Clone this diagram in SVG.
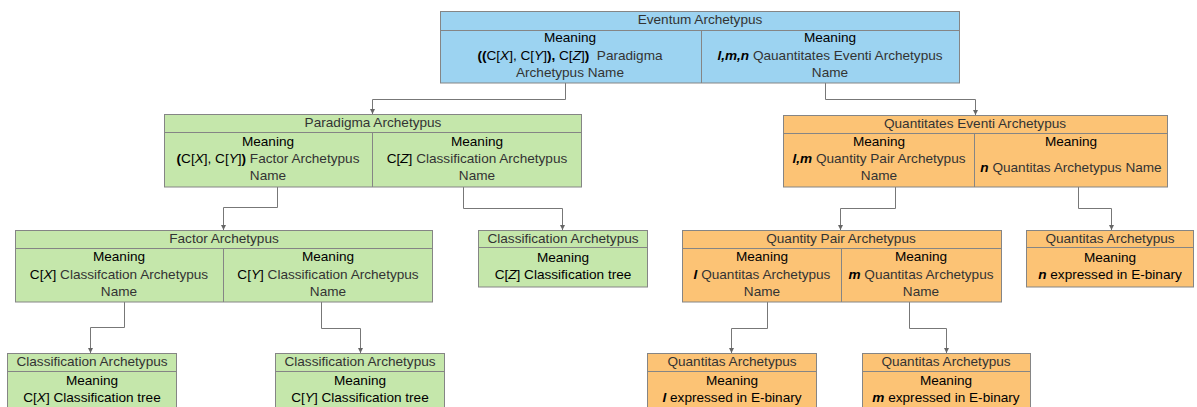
<svg xmlns="http://www.w3.org/2000/svg" width="1197" height="407" viewBox="0 0 1197 407">
<style>
text{font-family:"Liberation Sans",Arial,sans-serif;font-size:13.6px;text-anchor:middle;fill:#333}
.m{fill:#000}
.b{font-weight:bold;fill:#000}
.bi{font-weight:bold;font-style:italic;fill:#000}
.i{font-style:italic}
.box{stroke:#858585;stroke-width:1}
.blue{fill:#9cd3f1}
.green{fill:#c5e7ab}
.orange{fill:#fcc375}
.sep{stroke:#858585;stroke-width:1;fill:none}
.c{stroke:#777;stroke-width:1;fill:none;marker-end:url(#ah)}
</style>
<defs>
<marker id="ah" markerUnits="userSpaceOnUse" markerWidth="6" markerHeight="6" refX="5" refY="2.5" orient="auto">
<path d="M0,0 L5,2.5 L0,5 z" fill="#666"/>
</marker>
</defs>
<g id="connectors">
<path class="c" d="M565.5,83 V99.5 H372.5 V114"/>
<path class="c" d="M825.5,83 V99.5 H975.5 V115"/>
<path class="c" d="M277.5,187 V207.5 H223.5 V230"/>
<path class="c" d="M463.5,187 V208.5 H562.5 V230"/>
<path class="c" d="M895.5,187 V208.5 H840.5 V230"/>
<path class="c" d="M1078.5,187 V208.5 H1111.5 V230"/>
<path class="c" d="M124.5,302 V327.5 H90.5 V353"/>
<path class="c" d="M321.5,302 V328.5 H360.5 V353"/>
<path class="c" d="M767.5,302 V328.5 H731.5 V353"/>
<path class="c" d="M909.5,302 V328.5 H946.5 V353"/>
</g>
<g id="eventum">
<rect class="box blue" x="440.5" y="11.5" width="519" height="71.5"/>
<path class="sep" d="M440.5,30.5 H959.5 M701.5,30.5 V83"/>
<text x="700" y="24">Eventum Archetypus</text>
<text x="570" y="42" class="m">Meaning</text>
<text x="570" y="60"><tspan class="b">((</tspan><tspan class="m">C[</tspan><tspan class="m i">X</tspan><tspan class="m">], C[</tspan><tspan class="m i">Y</tspan><tspan class="m">]</tspan><tspan class="b">),</tspan><tspan class="m"> C[</tspan><tspan class="m i">Z</tspan><tspan class="m">]</tspan><tspan class="b">)</tspan>&#160; Paradigma</text>
<text x="570" y="77">Archetypus Name</text>
<text x="830" y="42" class="m">Meaning</text>
<text x="830" y="60"><tspan class="bi">l,m,n</tspan> Qauantitates Eventi Archetypus</text>
<text x="830" y="77">Name</text>
</g>
<g id="paradigma">
<rect class="box green" x="164.5" y="114.5" width="417" height="72.5"/>
<path class="sep" d="M164.5,132.5 H581.5 M372.5,132.5 V187"/>
<text x="373" y="127">Paradigma Archetypus</text>
<text x="268" y="146" class="m">Meaning</text>
<text x="268" y="163"><tspan class="b">(</tspan><tspan class="m">C[</tspan><tspan class="m i">X</tspan><tspan class="m">], C[</tspan><tspan class="m i">Y</tspan><tspan class="m">]</tspan><tspan class="b">)</tspan> Factor Archetypus</text>
<text x="268" y="180">Name</text>
<text x="477" y="146" class="m">Meaning</text>
<text x="477" y="163"><tspan class="m">C[</tspan><tspan class="m i">Z</tspan><tspan class="m">]</tspan> Classification Archetypus</text>
<text x="477" y="180">Name</text>
</g>
<g id="quantitates">
<rect class="box orange" x="783.5" y="115.5" width="384" height="71.5"/>
<path class="sep" d="M783.5,133.5 H1167.5 M974.5,133.5 V187"/>
<text x="975" y="128">Quantitates Eventi Archetypus</text>
<text x="879" y="146" class="m">Meaning</text>
<text x="879" y="163"><tspan class="bi">l,m</tspan> Quantity Pair Archetypus</text>
<text x="879" y="180">Name</text>
<text x="1071" y="146" class="m">Meaning</text>
<text x="1071" y="172"><tspan class="bi">n</tspan> Quantitas Archetypus Name</text>
</g>
<g id="factor">
<rect class="box green" x="15.5" y="230.5" width="417" height="71.5"/>
<path class="sep" d="M15.5,248.5 H432.5 M223.5,248.5 V302"/>
<text x="224" y="243">Factor Archetypus</text>
<text x="119" y="261" class="m">Meaning</text>
<text x="119" y="279"><tspan class="m">C[</tspan><tspan class="m i">X</tspan><tspan class="m">]</tspan> Classifcation Archetypus</text>
<text x="119" y="296">Name</text>
<text x="328" y="261" class="m">Meaning</text>
<text x="328" y="279"><tspan class="m">C[</tspan><tspan class="m i">Y</tspan><tspan class="m">]</tspan> Classification Archetypus</text>
<text x="328" y="296">Name</text>
</g>
<g id="classZ">
<rect class="box green" x="478.5" y="230.5" width="169" height="56.5"/>
<path class="sep" d="M478.5,247.5 H647.5"/>
<text x="563" y="243">Classification Archetypus</text>
<text x="563" y="262" class="m">Meaning</text>
<text x="563" y="279" class="m">C[<tspan class="i">Z</tspan>] Classification tree</text>
</g>
<g id="quantityPair">
<rect class="box orange" x="682.5" y="230.5" width="319" height="71.5"/>
<path class="sep" d="M682.5,248.5 H1001.5 M841.5,248.5 V302"/>
<text x="841" y="243">Quantity Pair Archetypus</text>
<text x="762" y="261" class="m">Meaning</text>
<text x="762" y="279"><tspan class="bi">l</tspan> Quantitas Archetypus</text>
<text x="762" y="296">Name</text>
<text x="921" y="261" class="m">Meaning</text>
<text x="921" y="279"><tspan class="bi">m</tspan> Quantitas Archetypus</text>
<text x="921" y="296">Name</text>
</g>
<g id="quantitasN">
<rect class="box orange" x="1026.5" y="230.5" width="167" height="56.5"/>
<path class="sep" d="M1026.5,247.5 H1193.5"/>
<text x="1110" y="243">Quantitas Archetypus</text>
<text x="1110" y="262" class="m">Meaning</text>
<text x="1110" y="279" class="m"><tspan class="bi">n</tspan> expressed in E-binary</text>
</g>
<g id="classX">
<rect class="box green" x="7.5" y="353.5" width="169" height="60"/>
<path class="sep" d="M7.5,371.5 H176.5"/>
<text x="92" y="366">Classification Archetypus</text>
<text x="92" y="385" class="m">Meaning</text>
<text x="92" y="402" class="m">C[<tspan class="i">X</tspan>] Classification tree</text>
</g>
<g id="classY">
<rect class="box green" x="275.5" y="353.5" width="169" height="60"/>
<path class="sep" d="M275.5,371.5 H444.5"/>
<text x="360" y="366">Classification Archetypus</text>
<text x="360" y="385" class="m">Meaning</text>
<text x="360" y="402" class="m">C[<tspan class="i">Y</tspan>] Classification tree</text>
</g>
<g id="quantitasL">
<rect class="box orange" x="647.5" y="353.5" width="169" height="60"/>
<path class="sep" d="M647.5,371.5 H816.5"/>
<text x="732" y="366">Quantitas Archetypus</text>
<text x="732" y="385" class="m">Meaning</text>
<text x="732" y="402" class="m"><tspan class="bi">l</tspan> expressed in E-binary</text>
</g>
<g id="quantitasM">
<rect class="box orange" x="862.5" y="353.5" width="168" height="60"/>
<path class="sep" d="M862.5,371.5 H1030.5"/>
<text x="946" y="366">Quantitas Archetypus</text>
<text x="946" y="385" class="m">Meaning</text>
<text x="946" y="402" class="m"><tspan class="bi">m</tspan> expressed in E-binary</text>
</g>
</svg>
